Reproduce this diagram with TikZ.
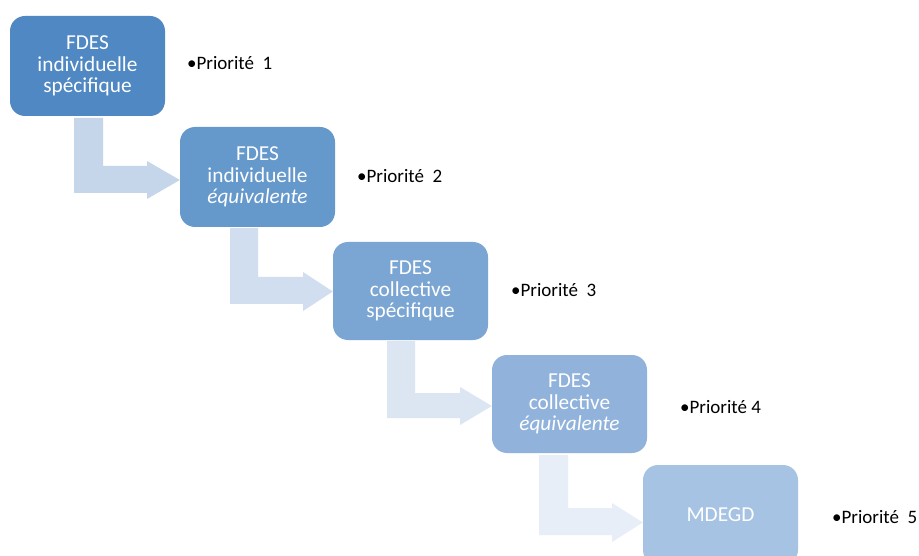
\documentclass[tikz,border=0pt]{standalone}
\usepackage{fontspec}
\setmainfont{Carlito}
\usetikzlibrary{calc}
\definecolor{c1}{HTML}{4F88C2}
\definecolor{c2}{HTML}{6598CB}
\definecolor{c3}{HTML}{7BA6D3}
\definecolor{c4}{HTML}{91B3DB}
\definecolor{c5}{HTML}{A7C3E3}
\definecolor{a1}{HTML}{C5D6EB}
\definecolor{a2}{HTML}{D1DEEF}
\definecolor{a3}{HTML}{DCE6F3}
\definecolor{a4}{HTML}{E7EEF7}
\begin{document}
\begin{tikzpicture}[x=1pt,y=-1pt,
  box/.style={rounded corners=15pt, minimum width=155pt, minimum height=100pt, inner sep=0pt,
    align=center, text=white, font=\fontsize{21.3}{21.5}\selectfont},
  prio/.style={anchor=west, inner sep=0pt, font=\fontsize{19}{21}\selectfont}]
\useasboundingbox[fill=white] (0,0) rectangle (919,556);
\begin{scope}
\clip (0,0) rectangle (919,556);
\node[box, fill=c1] (b1) at (87.5,66) {FDES\\individuelle\\spécifique};
\node[box, fill=c2] (b2) at (257.5,177) {FDES\\individuelle\\\textit{équivalente}};
\node[box, fill=c3, minimum height=98pt] (b3) at (410.5,291) {FDES\\collective\\spécifique};
\node[box, fill=c4, minimum height=98pt] (b4) at (569.5,404) {FDES\\collective\\\textit{équivalente}};
\node[box, fill=c5] (b5) at (720.5,515) {MDEGD};
\end{scope}
\fill[a1] (74,118) -- (103,118) -- (103,166) -- (147,166) -- (147,161) -- (b2.west |- 0,180) -- (147,199) -- (147,193) -- (74,193) -- cycle;
\fill[a2] (230,228) -- (258,228) -- (258,277) -- (303,277) -- (303,272) -- (b3.west |- 0,291.5) -- (303,311) -- (303,304) -- (230,304) -- cycle;
\fill[a3] (387,341) -- (415,341) -- (415,393) -- (460,393) -- (460,387) -- (b4.west |- 0,406) -- (460,425) -- (460,418) -- (387,418) -- cycle;
\fill[a4] (539,455) -- (568,455) -- (568,508) -- (612,508) -- (612,503) -- (b5.west |- 0,522.5) -- (612,542) -- (612,535) -- (539,535) -- cycle;
\node[prio] (p1) at (187,63) {•Priorité\hspace{0.45em}1};
\node[prio] (p2) at (357,176) {•Priorité\hspace{0.45em}2};
\node[prio] (p3) at (511,290) {•Priorité\hspace{0.45em}3};
\node[prio] (p4) at (680,407) {•Priorité 4};
\node[prio] (p5) at (832,517) {•Priorité\hspace{0.45em}5};
\end{tikzpicture}
\end{document}
